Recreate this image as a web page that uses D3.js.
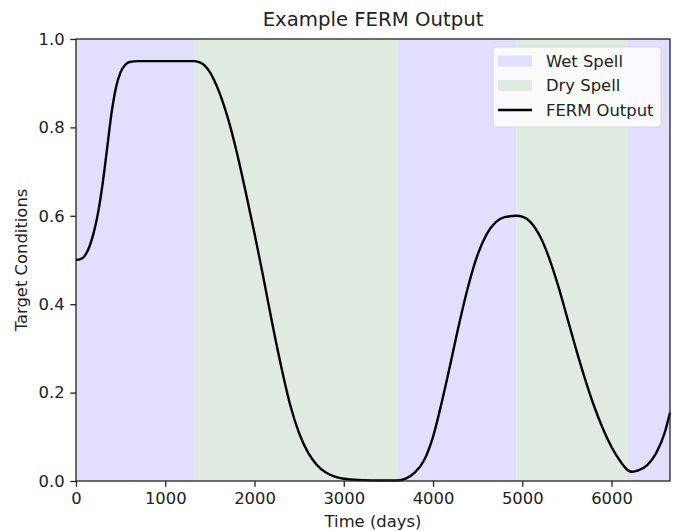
<!DOCTYPE html>
<html>
<head>
<meta charset="utf-8">
<script src="https://cdn.jsdelivr.net/npm/d3@7"></script>
<style>
  html, body { margin: 0; padding: 0; background: #fff; }
  svg { display: block; font-family: "DejaVu Sans", sans-serif; }
</style>
</head>
<body>
<svg id="chart" width="676" height="531"></svg>
<script>
// ---- data ----
const chartTitle = "Example FERM Output";
const xLabel = "Time (days)";
const yLabel = "Target Conditions";
const xDomain = [0, 6655];
const yDomain = [0, 1];
const xTicks = [0, 1000, 2000, 3000, 4000, 5000, 6000];
const yTicks = [0, 0.2, 0.4, 0.6, 0.8, 1.0];

// spells
const spellStarts = [0, 1322, 3600, 4932, 6185];
const spellEnds   = [1322, 3600, 4932, 6185, 6655];
const spellTypes  = ["wet", "dry", "wet", "dry", "wet"];

// FERM output
const days = [0, 50, 100, 150, 200, 250, 300, 350, 400, 450, 500, 550, 600, 700, 900, 1100, 1322,
  1400, 1500, 1600, 1700, 1800, 1900, 2000, 2100, 2200, 2300, 2400, 2500, 2600, 2700, 2800, 2900, 3000,
  3200, 3400, 3600, 3700, 3800, 3900, 4000, 4100, 4200, 4300, 4400, 4500, 4600, 4700, 4800, 4932,
  5000, 5100, 5200, 5300, 5400, 5500, 5600, 5700, 5800, 5900, 6000, 6100, 6185, 6230, 6300, 6400,
  6500, 6600, 6655];
const ferm = [0.500, 0.502, 0.510, 0.530, 0.563, 0.610, 0.675, 0.755, 0.835, 0.892, 0.925, 0.941, 0.948, 0.950, 0.950, 0.950, 0.950,
  0.946, 0.925, 0.882, 0.822, 0.745, 0.655, 0.560, 0.460, 0.355, 0.258, 0.172, 0.108, 0.064, 0.036, 0.019, 0.010, 0.005,
  0.002, 0.001, 0.001, 0.006, 0.020, 0.047, 0.100, 0.180, 0.270, 0.362, 0.445, 0.512, 0.558, 0.585, 0.597, 0.600,
  0.598, 0.584, 0.553, 0.505, 0.443, 0.372, 0.300, 0.233, 0.172, 0.120, 0.077, 0.044, 0.024, 0.021, 0.024, 0.036,
  0.063, 0.112, 0.155];

const spellColors = { wet: "#e0dffd", dry: "#e1eae1" };
const legendItems = [
  { label: "Wet Spell", kind: "patch", color: spellColors.wet },
  { label: "Dry Spell", kind: "patch", color: spellColors.dry },
  { label: "FERM Output", kind: "line", color: "#000" }
];

// ---- layout ----
const margin = { left: 76, right: 6, top: 39, bottom: 50 };
const W = 676, H = 531;
const FS = 16.4, TFS = 19.7, TICK = 5.7;
const svg = d3.select("#chart");
const x = d3.scaleLinear().domain(xDomain).range([margin.left, W - margin.right]);
const y = d3.scaleLinear().domain(yDomain).range([H - margin.bottom, margin.top]);

// spells
svg.append("g").selectAll("rect")
  .data(spellStarts.map((s, i) => ({ s, e: spellEnds[i], t: spellTypes[i] })))
  .join("rect")
  .attr("x", d => x(d.s))
  .attr("width", d => x(d.e) - x(d.s))
  .attr("y", y(1))
  .attr("height", y(0) - y(1))
  .attr("fill", d => spellColors[d.t]);

// line
const pts = days.map((d, i) => [d, ferm[i]]);
svg.append("path")
  .datum(pts)
  .attr("fill", "none")
  .attr("stroke", "#000")
  .attr("stroke-width", 2.4)
  .attr("stroke-linejoin", "round")
  .attr("d", d3.line().x(d => x(d[0])).y(d => y(d[1])).curve(d3.curveMonotoneX));

// axes
const xAxis = svg.append("g")
  .attr("transform", `translate(0,${y(0)})`)
  .call(d3.axisBottom(x).tickValues(xTicks).tickFormat(d3.format("d")).tickSize(TICK).tickPadding(TICK));
const yAxis = svg.append("g")
  .attr("transform", `translate(${x(0)},0)`)
  .call(d3.axisLeft(y).tickValues(yTicks).tickFormat(d3.format(".1f")).tickSize(TICK).tickPadding(TICK));
[xAxis, yAxis].forEach(a => {
  a.select(".domain").remove();
  a.selectAll("text").attr("font-size", FS).attr("font-family", "DejaVu Sans").attr("fill", "#222");
  a.selectAll("line").attr("stroke", "#222").attr("stroke-width", 1.3);
});

// frame
svg.append("rect")
  .attr("x", x(xDomain[0])).attr("y", y(1))
  .attr("width", x(xDomain[1]) - x(xDomain[0]))
  .attr("height", y(0) - y(1))
  .attr("fill", "none").attr("stroke", "#222").attr("stroke-width", 1.3);

// labels
svg.append("text").attr("x", (x(xDomain[0]) + x(xDomain[1])) / 2).attr("y", 527)
  .attr("text-anchor", "middle").attr("font-size", FS).attr("fill", "#222").text(xLabel);
svg.append("text").attr("transform", `translate(27,${(y(0) + y(1)) / 2}) rotate(-90)`)
  .attr("text-anchor", "middle").attr("font-size", FS).attr("fill", "#222").text(yLabel);
svg.append("text").attr("x", (x(xDomain[0]) + x(xDomain[1])) / 2).attr("y", 26)
  .attr("text-anchor", "middle").attr("font-size", TFS).attr("fill", "#222").text(chartTitle);

// legend
const lg = svg.append("g").attr("transform", "translate(493,47)");
lg.append("rect").attr("width", 168).attr("height", 80).attr("rx", 3)
  .attr("fill", "#fff").attr("fill-opacity", 0.8).attr("stroke", "#d6d6d6").attr("stroke-width", 1);
legendItems.forEach((it, i) => {
  const cy = 14 + i * 24.5;
  if (it.kind === "patch") {
    lg.append("rect").attr("x", 5).attr("y", cy - 5.5).attr("width", 34).attr("height", 11).attr("fill", it.color);
  } else {
    lg.append("line").attr("x1", 5).attr("x2", 39).attr("y1", cy).attr("y2", cy)
      .attr("stroke", it.color).attr("stroke-width", 2.4);
  }
  lg.append("text").attr("x", 53).attr("y", cy).attr("dy", "0.35em").attr("font-size", FS).attr("fill", "#222").text(it.label);
});
</script>
</body>
</html>
